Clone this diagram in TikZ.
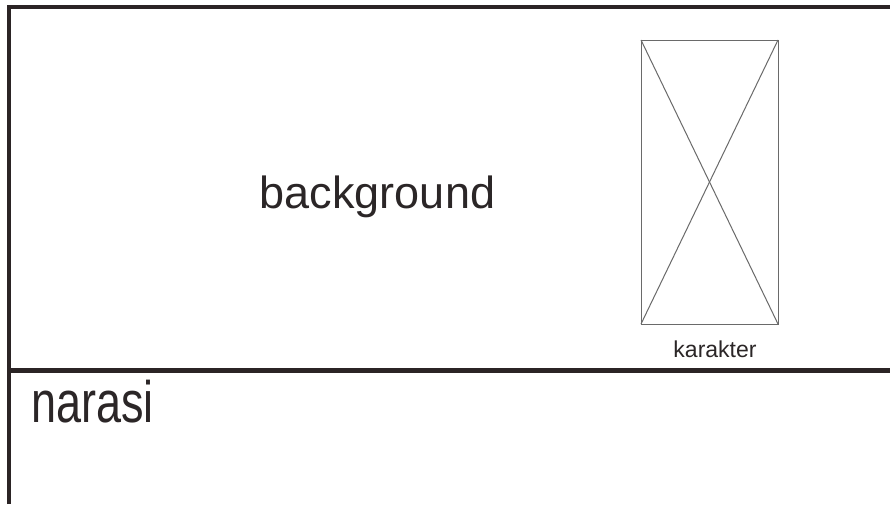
\documentclass[tikz,border=0pt]{standalone}
\usepackage{fontspec}
\setmainfont{Liberation Sans}
\definecolor{frame}{HTML}{2B2425}
\definecolor{boxgray}{HTML}{6A6A6A}
\definecolor{txt}{HTML}{2B2627}
\begin{document}
\begin{tikzpicture}[x=1pt,y=-1pt,
  frameline/.style={draw=frame,line width=4.2pt},
  charbox/.style={draw=boxgray,line width=1pt},
  label/.style={inner sep=0pt,text=txt}]
\useasboundingbox[fill=white] (0,0) rectangle (890,504);
% frame
\coordinate (tl) at (9,7);
\coordinate (tr) at (890,7);
\coordinate (bl) at (9,504);
\coordinate (dl) at (9,370.5);
\coordinate (dr) at (890,370.5);
\draw[frameline] (bl) -- (9,5);
\draw[frameline] (7,7) -- (tr);
\draw[frameline] (dl) -- (dr);
% character placeholder
\coordinate (c1) at (641,40);
\coordinate (c2) at (778,40);
\coordinate (c3) at (778,324);
\coordinate (c4) at (641,324);
\draw[charbox] (c1) -- (c2) -- (c3) -- (c4) -- cycle;
\draw[charbox] (c1) -- (c3);
\draw[charbox] (c2) -- (c4);
% labels
\node[label,anchor=base,font=\fontsize{45}{50}\selectfont] (bg) at (377.5,208) {background};
\node[label,anchor=base west,font=\fontsize{45}{50}\selectfont] (nar) at (31,422) {\scalebox{1}[1.3]{narasi}};
\node[label,anchor=base,font=\fontsize{23}{26}\selectfont] (kar) at (715,357) {karakter};
\end{tikzpicture}
\end{document}
